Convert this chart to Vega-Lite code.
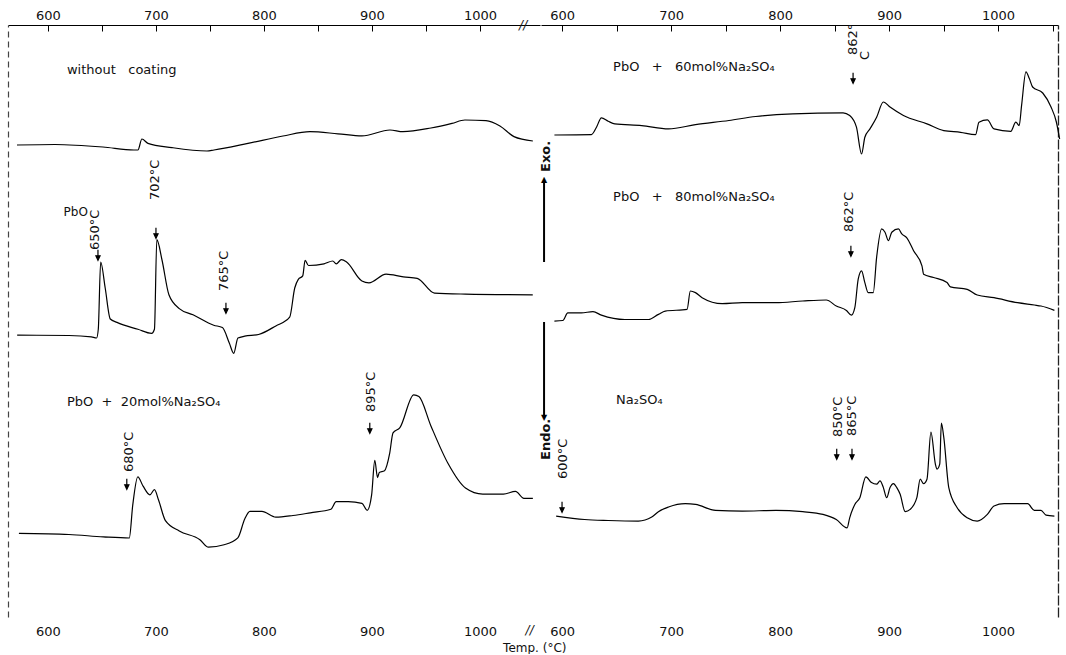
{
  "$schema": "https://vega.github.io/schema/vega-lite/v6.json",
  "padding": {"left": 7, "top": 9, "right": 6, "bottom": 0},
  "spacing": 0,
  "background": "white",
  "config": {
    "view": {"stroke": null},
    "axis": {"labelFont": "DejaVu Sans", "labelFontSize": 13, "labelColor": "#111", "domainColor": "black", "tickColor": "black", "grid": false, "title": null},
    "text": {"font": "DejaVu Sans", "fontSize": 13, "color": "#111"}
  },
  "title": {"text": "Temp. (°C)", "orient": "bottom", "anchor": "middle", "fontSize": 12, "fontWeight": "normal", "font": "DejaVu Sans", "color": "#111", "offset": 5},
  "datasets": {
    "L": [
      {"c":"a","T":571.3,"v":472},{"c":"a","T":606.5,"v":472.5},{"c":"a","T":650.9,"v":470},{"c":"a","T":679.6,"v":467},{"c":"a","T":683.3,"v":467},{"c":"a","T":687,"v":478},{"c":"a","T":692.6,"v":473.6},{"c":"a","T":714.8,"v":469.4},{"c":"a","T":747.2,"v":466},{"c":"a","T":753.7,"v":467},{"c":"a","T":785.2,"v":473.6},{"c":"a","T":817.6,"v":481},{"c":"a","T":842.6,"v":485.3},{"c":"a","T":868.5,"v":483.2},{"c":"a","T":890.7,"v":481.1},{"c":"a","T":916.7,"v":487},{"c":"a","T":928.7,"v":485.3},{"c":"a","T":954.6,"v":489},{"c":"a","T":974.1,"v":493.6},{"c":"a","T":986.1,"v":497},{"c":"a","T":1005.6,"v":496.3},{"c":"a","T":1018.5,"v":491},{"c":"a","T":1031.5,"v":480.4},{"c":"a","T":1049,"v":476},
      {"c":"b","T":571.5,"v":281.8},{"c":"b","T":619.4,"v":281.5},{"c":"b","T":640.2,"v":280.1},{"c":"b","T":645,"v":279},{"c":"b","T":646.6,"v":287.7},{"c":"b","T":648.8,"v":355},{"c":"b","T":653,"v":329},{"c":"b","T":657.7,"v":298},{"c":"b","T":663.9,"v":294.6},{"c":"b","T":683.3,"v":287.7},{"c":"b","T":696,"v":283.6},{"c":"b","T":698.6,"v":287.7},{"c":"b","T":700.8,"v":377.3},{"c":"b","T":705.6,"v":357},{"c":"b","T":712,"v":322.2},{"c":"b","T":721.6,"v":308.4},{"c":"b","T":734.3,"v":302.2},{"c":"b","T":753.5,"v":291.8},{"c":"b","T":761.5,"v":289.4},{"c":"b","T":767.9,"v":274},{"c":"b","T":772,"v":263.6},{"c":"b","T":775.9,"v":279},{"c":"b","T":782.2,"v":280.8},{"c":"b","T":795,"v":282.5},{"c":"b","T":811,"v":291.1},{"c":"b","T":823.8,"v":299.8},{"c":"b","T":828.5,"v":329},{"c":"b","T":831.8,"v":337.7},{"c":"b","T":835.9,"v":341.1},{"c":"b","T":838.1,"v":356.7},{"c":"b","T":841.3,"v":351.5},{"c":"b","T":855.6,"v":353.2},{"c":"b","T":863.7,"v":356},{"c":"b","T":866.9,"v":353.2},{"c":"b","T":871.7,"v":357.3},{"c":"b","T":876.5,"v":355},{"c":"b","T":890.7,"v":336},{"c":"b","T":897.2,"v":334.2},{"c":"b","T":913.1,"v":342.9},{"c":"b","T":929.1,"v":340.1},{"c":"b","T":941.9,"v":338.7},{"c":"b","T":957.9,"v":323.9},{"c":"b","T":986.6,"v":322.9},{"c":"b","T":1048.9,"v":322.2},
      {"c":"c","T":573.1,"v":83.6},{"c":"c","T":619.4,"v":82.5},{"c":"c","T":651.3,"v":80.1},{"c":"c","T":675.3,"v":79},{"c":"c","T":678.5,"v":111.8},{"c":"c","T":683.2,"v":140.1},{"c":"c","T":688.1,"v":130.8},{"c":"c","T":694.4,"v":122.2},{"c":"c","T":698.6,"v":127.3},{"c":"c","T":702.4,"v":117},{"c":"c","T":708.8,"v":96.3},{"c":"c","T":721.6,"v":86},{"c":"c","T":740.7,"v":77.3},{"c":"c","T":748.7,"v":69.8},{"c":"c","T":763.1,"v":72.2},{"c":"c","T":775.8,"v":79.1},{"c":"c","T":782.2,"v":98},{"c":"c","T":787,"v":105.6},{"c":"c","T":798.1,"v":105.6},{"c":"c","T":811,"v":99.8},{"c":"c","T":826.9,"v":101.5},{"c":"c","T":842.9,"v":104.2},{"c":"c","T":862,"v":107.7},{"c":"c","T":866.9,"v":115.3},{"c":"c","T":878,"v":115.3},{"c":"c","T":890.7,"v":113.6},{"c":"c","T":895.6,"v":106.7},{"c":"c","T":899.7,"v":122.2},{"c":"c","T":902.6,"v":156.7},{"c":"c","T":905.2,"v":139.4},{"c":"c","T":906.8,"v":144.6},{"c":"c","T":911.6,"v":146.3},{"c":"c","T":916.4,"v":163.6},{"c":"c","T":919.5,"v":184.2},{"c":"c","T":925.9,"v":189.4},{"c":"c","T":938.7,"v":222.2},{"c":"c","T":943.5,"v":220.4},{"c":"c","T":954.6,"v":191.1},{"c":"c","T":970.6,"v":153.2},{"c":"c","T":986.6,"v":129},{"c":"c","T":1002.6,"v":122.9},{"c":"c","T":1021.7,"v":122.9},{"c":"c","T":1032.9,"v":125.6},{"c":"c","T":1040.7,"v":118.7},{"c":"c","T":1049,"v":118.7}
    ],
    "R": [
      {"c":"d","T":593,"v":482},{"c":"d","T":626.9,"v":482.4},{"c":"d","T":631.6,"v":489.8},{"c":"d","T":636.1,"v":499.1},{"c":"d","T":642.3,"v":495.8},{"c":"d","T":648.4,"v":493.1},{"c":"d","T":673.1,"v":491.4},{"c":"d","T":697.7,"v":488.1},{"c":"d","T":722.4,"v":492.4},{"c":"d","T":753.1,"v":496.5},{"c":"d","T":777.8,"v":500.5},{"c":"d","T":811.7,"v":503.2},{"c":"d","T":857.8,"v":504.2},{"c":"d","T":863.9,"v":501.5},{"c":"d","T":870.1,"v":489.8},{"c":"d","T":874.8,"v":463},{"c":"d","T":877.8,"v":479.7},{"c":"d","T":882.5,"v":488.1},{"c":"d","T":888.6,"v":499.8},{"c":"d","T":894.8,"v":515},{"c":"d","T":900.9,"v":509.9},{"c":"d","T":913.2,"v":501.5},{"c":"d","T":934.8,"v":493.1},{"c":"d","T":950.2,"v":486.4},{"c":"d","T":965.6,"v":484.7},{"c":"d","T":979.4,"v":482.4},{"c":"d","T":982.5,"v":494.8},{"c":"d","T":990.2,"v":497.1},{"c":"d","T":996.3,"v":488.1},{"c":"d","T":1011.7,"v":485.7},{"c":"d","T":1016.3,"v":494.8},{"c":"d","T":1019.4,"v":491.4},{"c":"d","T":1021.6,"v":511.6},{"c":"d","T":1025.6,"v":545.1},{"c":"d","T":1028.7,"v":538.4},{"c":"d","T":1031.7,"v":530},{"c":"d","T":1041,"v":524},{"c":"d","T":1048.6,"v":510},{"c":"d","T":1053.5,"v":495},{"c":"d","T":1056.5,"v":478},
      {"c":"e","T":593,"v":295.9},{"c":"e","T":600.7,"v":296.5},{"c":"e","T":605.3,"v":304.2},{"c":"e","T":617.7,"v":304.2},{"c":"e","T":628.4,"v":305.3},{"c":"e","T":636.1,"v":301.9},{"c":"e","T":657.7,"v":297.5},{"c":"e","T":679.3,"v":297.5},{"c":"e","T":688.4,"v":302.6},{"c":"e","T":694.7,"v":305.9},{"c":"e","T":714.7,"v":307.6},{"c":"e","T":717.7,"v":326},{"c":"e","T":722.4,"v":324.4},{"c":"e","T":728.5,"v":319.3},{"c":"e","T":747,"v":313.3},{"c":"e","T":765.4,"v":314.3},{"c":"e","T":796.2,"v":314.3},{"c":"e","T":820.8,"v":316},{"c":"e","T":842.4,"v":317},{"c":"e","T":851.6,"v":311},{"c":"e","T":860.9,"v":306.6},{"c":"e","T":865.5,"v":301.9},{"c":"e","T":868.6,"v":309.3},{"c":"e","T":871.7,"v":337.8},{"c":"e","T":874.8,"v":346.2},{"c":"e","T":877.8,"v":334.4},{"c":"e","T":880.9,"v":324.4},{"c":"e","T":885.5,"v":324.4},{"c":"e","T":888.6,"v":359.6},{"c":"e","T":893.2,"v":388.1},{"c":"e","T":896.3,"v":384.8},{"c":"e","T":899.4,"v":376.4},{"c":"e","T":902.5,"v":384.8},{"c":"e","T":908.6,"v":388.1},{"c":"e","T":911.7,"v":383.1},{"c":"e","T":916.3,"v":379.1},{"c":"e","T":922.5,"v":366.3},{"c":"e","T":930.2,"v":351.2},{"c":"e","T":931.7,"v":342.8},{"c":"e","T":940.9,"v":339.5},{"c":"e","T":953.2,"v":334.4},{"c":"e","T":956.3,"v":330.1},{"c":"e","T":971.7,"v":327.7},{"c":"e","T":980.9,"v":322},{"c":"e","T":996.3,"v":319.3},{"c":"e","T":1017.9,"v":314.3},{"c":"e","T":1033.3,"v":312},{"c":"e","T":1039.4,"v":311},{"c":"e","T":1051.7,"v":306.6},
      {"c":"f","T":594.6,"v":100.9},{"c":"f","T":620.7,"v":97.5},{"c":"f","T":642.3,"v":96.5},{"c":"f","T":670,"v":95.9},{"c":"f","T":682.3,"v":99.9},{"c":"f","T":688.4,"v":105.3},{"c":"f","T":697.7,"v":110},{"c":"f","T":713.1,"v":113.3},{"c":"f","T":722.4,"v":112.6},{"c":"f","T":740.8,"v":106.6},{"c":"f","T":765.4,"v":105.9},{"c":"f","T":796.2,"v":106.6},{"c":"f","T":820.8,"v":105.3},{"c":"f","T":839.4,"v":102.6},{"c":"f","T":851.6,"v":97.5},{"c":"f","T":861.5,"v":89.1},{"c":"f","T":863.9,"v":99.2},{"c":"f","T":868.6,"v":112.6},{"c":"f","T":873.2,"v":119.3},{"c":"f","T":878.7,"v":140.2},{"c":"f","T":883.9,"v":134.4},{"c":"f","T":888.6,"v":132.8},{"c":"f","T":891.7,"v":136.1},{"c":"f","T":894.8,"v":129.4},{"c":"f","T":897.8,"v":119.3},{"c":"f","T":900.9,"v":129.4},{"c":"f","T":904,"v":133.4},{"c":"f","T":907.1,"v":129.4},{"c":"f","T":910.2,"v":122.7},{"c":"f","T":914.8,"v":105.3},{"c":"f","T":919.4,"v":107.6},{"c":"f","T":925.5,"v":119.3},{"c":"f","T":928.6,"v":137.8},{"c":"f","T":931.7,"v":133.4},{"c":"f","T":934.8,"v":137.8},{"c":"f","T":938.4,"v":184.8},{"c":"f","T":942.5,"v":152.9},{"c":"f","T":944,"v":147.9},{"c":"f","T":946.5,"v":152.9},{"c":"f","T":948,"v":193.8},{"c":"f","T":950.2,"v":179.8},{"c":"f","T":954.8,"v":129.4},{"c":"f","T":962.5,"v":109.3},{"c":"f","T":971.7,"v":99.2},{"c":"f","T":980.9,"v":95.9},{"c":"f","T":990.2,"v":102.6},{"c":"f","T":996.3,"v":111},{"c":"f","T":1005.6,"v":113.3},{"c":"f","T":1027.2,"v":113.3},{"c":"f","T":1033.3,"v":106.6},{"c":"f","T":1039.4,"v":106.6},{"c":"f","T":1044,"v":101.9},{"c":"f","T":1051.7,"v":100.9}
    ],
    "Lh": [
      {"t":"without\u00a0\u00a0\u00a0coating","T":617.6,"v":547,"s":13},
      {"t":"PbO","T":614.5,"v":405,"s":12},
      {"t":"PbO\u00a0\u00a0+\u00a0\u00a020mol%Na₂SO₄","T":617.6,"v":215,"s":13}
    ],
    "Lv": [
      {"t":"650°C","T":643.5,"v":367},
      {"t":"702°C","T":699.1,"v":417},
      {"t":"765°C","T":763,"v":326},
      {"t":"680°C","T":675,"v":145},
      {"t":"895°C","T":899,"v":205}
    ],
    "La": [
      {"T":646.3,"v":362},{"T":700,"v":384},{"T":764.8,"v":309},{"T":673,"v":133},{"T":898,"v":189}
    ],
    "Lb": [
      {"t":"//","T":1040,"v":592},
      {"t":"//","T":1046,"v":-13}
    ],
    "Rh": [
      {"t":"PbO\u00a0\u00a0\u00a0+\u00a0\u00a0\u00a060mol%Na₂SO₄","T":646.8,"v":550},
      {"t":"PbO\u00a0\u00a0\u00a0+\u00a0\u00a0\u00a080mol%Na₂SO₄","T":646.8,"v":420},
      {"t":"Na₂SO₄","T":649.5,"v":217}
    ],
    "Rv": [
      {"t":"862°","T":867,"v":562},
      {"t":"C","T":878,"v":557},
      {"t":"862°C","T":863.3,"v":385},
      {"t":"600°C","T":601,"v":138},
      {"t":"850°C","T":853,"v":180},
      {"t":"865°C","T":866,"v":181}
    ],
    "Rx": [
      {"t":"Exo.","T":585.6,"v":445},
      {"t":"Endo.","T":585.6,"v":157}
    ],
    "Ra": [
      {"T":867,"v":539},{"T":865,"v":366},{"T":600,"v":110},{"T":852,"v":163},{"T":866,"v":163}
    ],
    "Rr": [
      {"T":583.5,"v":355,"v2":435},
      {"T":583.5,"v":295,"v2":201}
    ],
    "Rt": [
      {"t":"▲","T":583.5,"v":437},
      {"t":"▼","T":583.5,"v":199}
    ]
  },
  "hconcat": [
    {
      "width": 532,
      "height": 592,
      "resolve": {"axis": {"x": "independent", "y": "independent"}, "scale": {"x": "shared", "y": "shared"}},
      "layer": [
        {
          "data": {"name": "L"},
          "mark": {"type": "line", "color": "black", "strokeWidth": 1.2, "interpolate": "monotone"},
          "encoding": {
            "x": {"field": "T", "type": "quantitative", "scale": {"domain": [563, 1055.6], "nice": false, "zero": false},
                  "axis": {"orient": "top", "values": [600, 650, 700, 750, 800, 850, 900, 950, 1000], "format": "d", "labelExpr": "datum.value % 100 === 0 ? datum.label : ''", "tickSize": -6, "labelPadding": 9, "domainWidth": 1.2}},
            "y": {"field": "v", "type": "quantitative", "scale": {"domain": [0, 592], "nice": false, "zero": false},
                  "axis": {"orient": "left", "values": [0], "labelExpr": "''", "labelPadding": 0, "tickSize": 0, "domain": true, "domainDash": [6, 4], "domainColor": "#444", "domainWidth": 1.2}},
            "detail": {"field": "c"}
          }
        },
        {
          "data": {"name": "Lh"},
          "mark": {"type": "text", "align": "left", "baseline": "middle"},
          "encoding": {
            "x": {"field": "T", "type": "quantitative", "axis": {"orient": "bottom", "values": [600, 700, 800, 900, 1000], "format": "d", "domain": false, "ticks": false, "labelPadding": 8}},
            "y": {"field": "v", "type": "quantitative", "axis": null},
            "size": {"field": "s", "type": "quantitative", "scale": null},
            "text": {"field": "t"}
          }
        },
        {
          "data": {"name": "Lv"},
          "mark": {"type": "text", "align": "left", "baseline": "middle", "angle": 270},
          "encoding": {
            "x": {"field": "T", "type": "quantitative", "axis": null},
            "y": {"field": "v", "type": "quantitative", "axis": null},
            "text": {"field": "t"}
          }
        },
        {
          "data": {"name": "La"},
          "mark": {"type": "point", "shape": "M0,-1V0.2M-0.4,0.15L0,1L0.4,0.15Z", "filled": true, "fill": "black", "stroke": "black", "strokeWidth": 1.2, "size": 110, "opacity": 1},
          "encoding": {
            "x": {"field": "T", "type": "quantitative", "axis": null},
            "y": {"field": "v", "type": "quantitative", "axis": null}
          }
        },
        {
          "data": {"name": "Lb"},
          "mark": {"type": "text", "align": "center", "baseline": "middle", "fontSize": 12, "fontStyle": "italic"},
          "encoding": {
            "x": {"field": "T", "type": "quantitative", "axis": null},
            "y": {"field": "v", "type": "quantitative", "axis": null},
            "text": {"field": "t"}
          }
        }
      ]
    },
    {
      "width": 517,
      "height": 592,
      "resolve": {"axis": {"x": "independent", "y": "independent"}, "scale": {"x": "shared", "y": "shared"}},
      "layer": [
        {
          "data": {"name": "R"},
          "mark": {"type": "line", "color": "black", "strokeWidth": 1.2, "interpolate": "monotone"},
          "encoding": {
            "x": {"field": "T", "type": "quantitative", "scale": {"domain": [580.7, 1055], "nice": false, "zero": false},
                  "axis": {"orient": "top", "values": [600, 650, 700, 750, 800, 850, 900, 950, 1000, 1050], "format": "d", "labelExpr": "datum.value % 100 === 0 ? datum.label : ''", "tickSize": -6, "labelPadding": 9, "domainWidth": 1.2}},
            "y": {"field": "v", "type": "quantitative", "scale": {"domain": [0, 592], "nice": false, "zero": false},
                  "axis": {"orient": "right", "values": [0], "labelExpr": "''", "labelPadding": 0, "tickSize": 0, "domain": true, "domainColor": "#222", "domainWidth": 1.3, "domainDash": [10, 2]}},
            "detail": {"field": "c"}
          }
        },
        {
          "data": {"name": "Rh"},
          "mark": {"type": "text", "align": "left", "baseline": "middle"},
          "encoding": {
            "x": {"field": "T", "type": "quantitative", "axis": {"orient": "bottom", "values": [600, 700, 800, 900, 1000], "format": "d", "domain": false, "ticks": false, "labelPadding": 8}},
            "y": {"field": "v", "type": "quantitative", "axis": null},
            "text": {"field": "t"}
          }
        },
        {
          "data": {"name": "Rv"},
          "mark": {"type": "text", "align": "left", "baseline": "middle", "angle": 270},
          "encoding": {
            "x": {"field": "T", "type": "quantitative", "axis": null},
            "y": {"field": "v", "type": "quantitative", "axis": null},
            "text": {"field": "t"}
          }
        },
        {
          "data": {"name": "Rx"},
          "mark": {"type": "text", "align": "left", "baseline": "middle", "angle": 270, "fontWeight": "bold", "fontSize": 13},
          "encoding": {
            "x": {"field": "T", "type": "quantitative", "axis": null},
            "y": {"field": "v", "type": "quantitative", "axis": null},
            "text": {"field": "t"}
          }
        },
        {
          "data": {"name": "Ra"},
          "mark": {"type": "point", "shape": "M0,-1V0.2M-0.4,0.15L0,1L0.4,0.15Z", "filled": true, "fill": "black", "stroke": "black", "strokeWidth": 1.2, "size": 110, "opacity": 1},
          "encoding": {
            "x": {"field": "T", "type": "quantitative", "axis": null},
            "y": {"field": "v", "type": "quantitative", "axis": null}
          }
        },
        {
          "data": {"name": "Rr"},
          "mark": {"type": "rule", "color": "black", "strokeWidth": 2},
          "encoding": {
            "x": {"field": "T", "type": "quantitative", "axis": null},
            "y": {"field": "v", "type": "quantitative", "axis": null},
            "y2": {"field": "v2"}
          }
        },
        {
          "data": {"name": "Rt"},
          "mark": {"type": "text", "align": "center", "baseline": "middle", "fontSize": 8, "color": "black"},
          "encoding": {
            "x": {"field": "T", "type": "quantitative", "axis": null},
            "y": {"field": "v", "type": "quantitative", "axis": null},
            "text": {"field": "t"}
          }
        }
      ]
    }
  ]
}
